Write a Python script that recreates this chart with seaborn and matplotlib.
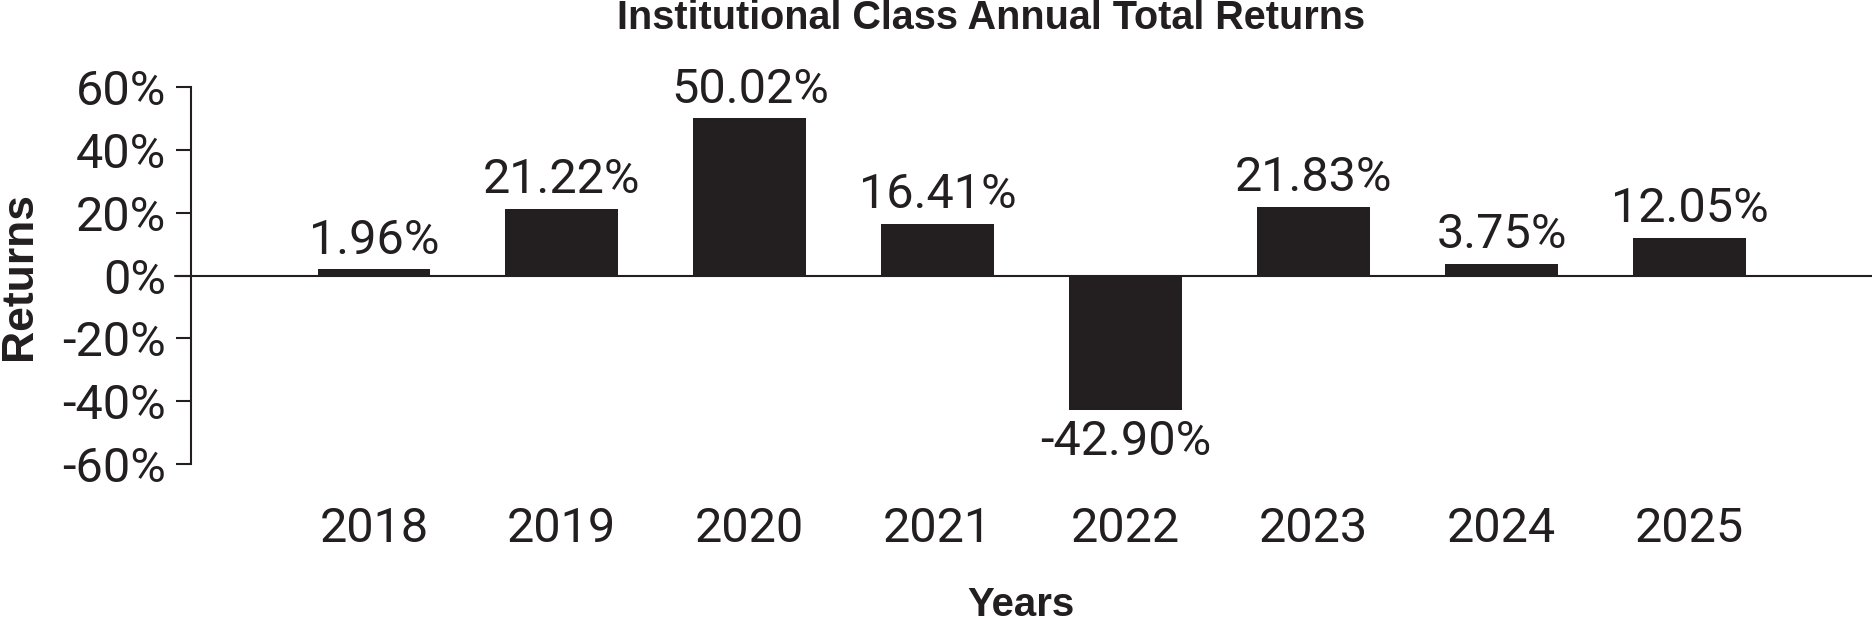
import numpy as np
import pandas as pd
import seaborn as sns
import matplotlib.pyplot as plt

# chart data
years = ["2018", "2019", "2020", "2021", "2022", "2023", "2024", "2025"]
returns = [1.96, 21.22, 50.02, 16.41, -42.90, 21.83, 3.75, 12.05]
yticks = [60, 40, 20, 0, -20, -40, -60]
title = "Institutional Class Annual Total Returns"

ink = "#231f20"

sns.set_style("white")
plt.rcParams['font.family'] = ['Roboto', 'Liberation Sans', 'DejaVu Sans']

df = pd.DataFrame({"Years": years, "Returns": returns})

fig = plt.figure(figsize=(18.72, 6.21), dpi=100)
ax = fig.add_axes([191 / 1872, 157 / 621, 1 - 191 / 1872, 377 / 621])

sns.barplot(data=df, x="Years", y="Returns", color=ink, saturation=1,
            width=0.6, ax=ax, edgecolor="none")

ax.set_xlim(-0.973, 7.97)
ax.set_ylim(-60, 60)
ax.set_yticks(yticks)
ax.set_yticklabels([f"{t}%" for t in yticks])

for s in ["top", "right", "bottom"]:
    ax.spines[s].set_visible(False)
ax.spines["left"].set_color(ink)
ax.spines["left"].set_linewidth(1.5)
ax.tick_params(axis="y", length=11, width=1.5, color=ink, pad=7,
               labelsize=35, labelcolor=ink, left=True)
ax.tick_params(axis="x", length=0, pad=30, labelsize=35, labelcolor=ink)

# zero line running from the tick to the right edge
ax.axhline(0, xmin=-16 / 1681, xmax=1, color=ink, lw=1.5, clip_on=False, zorder=3)

for i, v in enumerate(returns):
    if v >= 0:
        ax.annotate(f"{v:.2f}%", (i, v), xytext=(0, 4), textcoords="offset points",
                    ha="center", va="bottom", fontsize=35, color=ink)
    else:
        ax.annotate(f"{v:.2f}%", (i, v), xytext=(0, -6), textcoords="offset points",
                    ha="center", va="top", fontsize=35, color=ink)

bold = ["Liberation Sans", "DejaVu Sans"]
ax.set_xlabel("")
ax.set_ylabel("Returns", fontsize=32, fontweight="bold", color=ink,
              family=bold, labelpad=16)
fig.text(1021 / 1872, 1 - 605 / 621, "Years", ha="center", va="center", fontsize=29,
         fontweight="bold", color=ink, family=bold)
fig.text(991 / 1872, 1 - 18 / 621, title, ha="center", va="center", fontsize=28.5,
         fontweight="bold", color=ink, family=bold)

fig.savefig("out.png", dpi=100)
